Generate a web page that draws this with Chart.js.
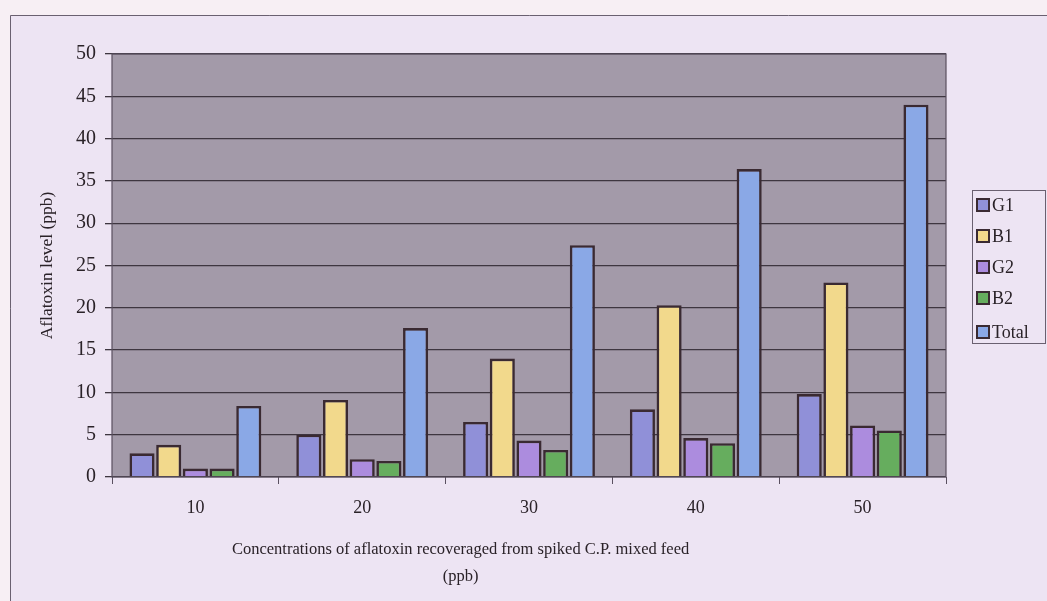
<!DOCTYPE html>
<html>
<head>
<meta charset="utf-8">
<script src="https://cdn.jsdelivr.net/npm/chart.js@4/dist/chart.umd.min.js"></script>
<style>
  html, body { margin: 0; padding: 0; background: #f7eff4; }
  #wrap { width: 1047px; height: 601px; position: relative; }
  canvas { display: block; }
</style>
</head>
<body>
<div id="wrap"><canvas id="c" width="1047" height="601"></canvas></div>
<script>
const categories = ['10', '20', '30', '40', '50'];
const g1 = [2.8, 5.0, 6.5, 8.0, 9.8];
const b1 = [3.8, 9.1, 14.0, 20.3, 23.0];
const g2 = [1.0, 2.1, 4.3, 4.6, 6.1];
const b2 = [1.0, 1.9, 3.2, 4.0, 5.5];
const total = [8.4, 17.6, 27.4, 36.4, 44.0];
const seriesNames = ['G1', 'B1', 'G2', 'B2', 'Total'];
const yTicks = { min: 0, max: 50, step: 5 };
const xTitle = ['Concentrations of aflatoxin recoveraged from spiked C.P. mixed feed', '(ppb)'];
const yTitle = 'Aflatoxin level (ppb)';

const colors = ['#9090d8', '#f2d98c', '#ac8cde', '#66ad5e', '#8aa8e6'];
const edge = '#3a2a32';
const serif = "'Liberation Serif', 'Times New Roman', serif";

const bgPlugin = {
  id: 'bgPlugin',
  beforeDraw(chart) {
    const { ctx, chartArea: a } = chart;
    ctx.save();
    ctx.fillStyle = '#ede4f3';
    ctx.fillRect(10, 15, chart.width - 10, chart.height - 15);
    ctx.strokeStyle = '#6a6070';
    ctx.lineWidth = 1;
    ctx.beginPath();
    ctx.moveTo(10.5, chart.height);
    ctx.lineTo(10.5, 15.5);
    ctx.lineTo(chart.width + 2, 15.5);
    ctx.stroke();
    ctx.fillStyle = '#a39aa9';
    ctx.fillRect(a.left, a.top, a.right - a.left, a.bottom - a.top);
    ctx.restore();
  },
  afterDatasetsDraw(chart) {
    const { ctx, chartArea: a } = chart;
    ctx.save();
    ctx.strokeStyle = '#5a5060';
    ctx.lineWidth = 1.2;
    ctx.strokeRect(a.left, a.top, a.right - a.left, a.bottom - a.top);
    ctx.restore();
  },
  afterDraw(chart) {
    const { ctx, chartArea: a } = chart;
    const ds = chart.data.datasets;
    ctx.save();
    ctx.font = '16.5px ' + serif;
    ctx.fillStyle = '#2a2228';
    ctx.textAlign = 'center';
    ctx.textBaseline = 'middle';
    const tx = a.left + (a.right - a.left) * 0.418;
    xTitle.forEach((t, i) => ctx.fillText(t, tx, a.bottom + 73 + i * 27));
    ctx.restore();

    const left = a.right + 26, top = 190, w = 73, rowH = 31;
    const h = 153;
    ctx.save();
    ctx.strokeStyle = '#6a6070';
    ctx.lineWidth = 1;
    ctx.strokeRect(left + 0.5, top + 0.5, w, h);
    ctx.font = '18px ' + serif;
    ctx.textBaseline = 'middle';
    ds.forEach((d, i) => {
      const cy = top + 15 + i * rowH + (i === 4 ? 3 : 0);
      ctx.fillStyle = d.backgroundColor;
      ctx.fillRect(left + 5, cy - 6, 12, 12);
      ctx.strokeStyle = edge;
      ctx.lineWidth = 2;
      ctx.strokeRect(left + 5, cy - 6, 12, 12);
      ctx.fillStyle = '#2a2228';
      ctx.fillText(d.label, left + 20, cy + 1);
    });
    ctx.restore();
  }
};

const seriesData = [g1, b1, g2, b2, total];
new Chart(document.getElementById('c'), {
  type: 'bar',
  data: {
    labels: categories,
    datasets: seriesNames.map((n, i) => ({
      label: n,
      data: seriesData[i],
      backgroundColor: colors[i],
      borderColor: edge,
      borderWidth: 2.6,
      categoryPercentage: 0.8,
      barPercentage: 0.94
    }))
  },
  options: {
    responsive: false,
    animation: false,
    layout: { padding: { left: 0, top: 54, right: 101, bottom: 0 } },
    plugins: { legend: { display: false }, tooltip: { enabled: false } },
    scales: {
      x: {
        afterFit(scale) { scale.height = 124; },
        grid: { display: true, drawOnChartArea: false, offset: true, tickLength: 7, color: '#5a5060', lineWidth: 1 },
        border: { display: false },
        ticks: { color: '#2a2228', font: { family: serif, size: 18 }, padding: 13 },
        title: { display: false }
      },
      y: {
        min: yTicks.min, max: yTicks.max,
        afterFit(scale) { scale.width = 112; },
        grid: { color: '#3e3640', lineWidth: 1.3, tickLength: 7 },
        border: { display: false },
        ticks: { stepSize: yTicks.step, color: '#2a2228', font: { family: serif, size: 20 }, padding: 9 },
        title: {
          display: true, text: yTitle, color: '#2a2228',
          font: { family: serif, size: 17.5 },
          padding: { top: 37, bottom: 0 }
        }
      }
    }
  },
  plugins: [bgPlugin]
});
</script>
</body>
</html>
